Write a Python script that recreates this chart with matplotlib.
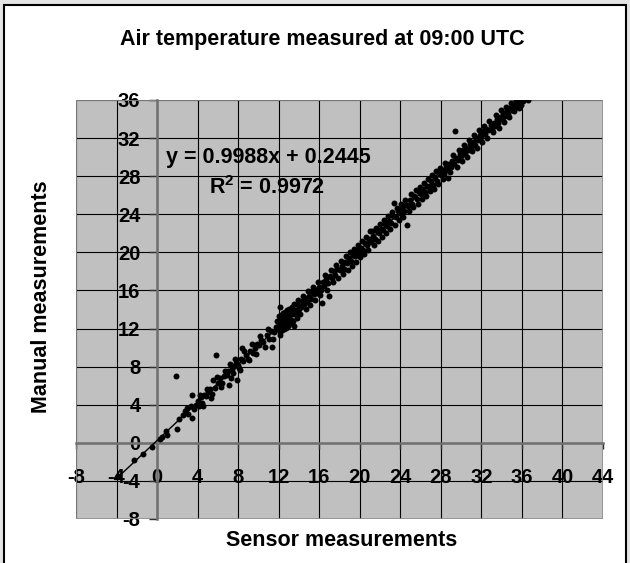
import numpy as np
import matplotlib
matplotlib.use('Agg')
import matplotlib.pyplot as plt
from matplotlib.patches import Rectangle

plt.rcParams['font.family'] = ['Liberation Sans', 'DejaVu Sans']
plt.rcParams['font.weight'] = 'bold'
plt.rcParams['axes.unicode_minus'] = False
plt.rcParams['mathtext.fontset'] = 'custom'
plt.rcParams['mathtext.rm'] = 'Liberation Sans:bold'
plt.rcParams['mathtext.bf'] = 'Liberation Sans:bold'

# sensor (x) / manual (y) temperature pairs
sensor = [
    -3.9, -2.3, -1.4, -0.5, 0.3, 0.5, 0.9, 1.0, 1.9, 2.0, 2.2, 2.6, 2.8, 3.0, 3.1, 3.3, 3.4, 3.4, 3.6, 3.8,
    4.0, 4.1, 4.3, 4.4, 4.6, 4.8, 5.0, 5.2, 5.4, 5.5, 5.7, 5.8, 6.0, 6.2, 6.4, 6.6, 6.9, 7.0, 7.1, 7.2,
    7.4, 7.5, 7.6, 7.8, 7.9, 8.0,
    8.1, 8.3, 8.4, 8.5, 8.8, 9.0, 9.2, 9.5, 9.7, 9.9, 10.1, 10.3, 10.5, 10.8, 11.0, 11.2, 11.3, 11.5, 11.7, 11.9,
    12.0, 12.1, 12.1, 12.2, 12.3, 12.4, 12.5, 12.6, 12.7, 12.8, 12.9, 13.0, 13.1, 13.2, 13.4, 13.5, 13.6, 13.7,
    13.9, 14.0, 14.2, 14.3, 14.5, 14.6, 14.8, 15.0, 15.2, 15.3, 15.5, 15.7, 15.8, 16.0, 16.2,
    16.3, 16.4, 16.5, 16.7, 16.9, 17.0, 17.1, 17.3, 17.5, 17.6, 17.8, 18.0, 18.2, 18.4, 18.5, 18.7, 18.9, 19.1,
    19.3, 19.5, 19.7, 19.9,
    20.1, 20.3, 20.5, 20.7, 20.9, 21.0, 21.1, 21.3, 21.5, 21.7, 21.9, 22.1, 22.3, 22.5, 22.7, 22.9, 23.1, 23.3,
    23.4, 23.6, 23.8,
    24.0, 24.2, 24.4, 24.6, 24.7, 24.8, 25.0, 25.2, 25.4, 25.6, 25.8, 26.0, 26.2, 26.4, 26.6, 26.8, 27.0, 27.2,
    27.4, 27.6, 27.8, 28.0,
    28.1, 28.3, 28.5, 28.6, 28.7, 28.8, 29.0, 29.1, 29.3, 29.4, 29.5, 29.7, 29.9, 30.0, 30.2, 30.4, 30.5, 30.7,
    30.9, 31.0, 31.2, 31.4, 31.5, 31.7, 31.9,
    32.0, 32.2, 32.4, 32.5, 32.7, 32.9, 33.0, 33.2, 33.3, 33.5, 33.6, 33.8, 34.0, 34.1, 34.3, 34.5, 34.6, 34.8,
    35.0, 35.1, 35.3, 35.5, 35.6, 35.8, 36.1, 36.6,
    # second pass through the dense band
    4.2, 4.5, 4.9, 5.3, 5.9, 6.3, 6.7, 7.3, 7.7, 8.2, 8.6, 9.1, 9.4, 9.8, 10.2, 10.6, 10.9, 11.4, 11.8,
    12.05, 12.15, 12.25, 12.35, 12.45, 12.55, 12.65, 12.75, 12.85, 12.95, 13.05, 13.15, 13.3, 13.45, 13.55,
    13.8, 13.95, 14.1, 14.4, 14.7, 14.9, 15.1, 15.4, 15.6, 15.9, 16.1,
    16.6, 16.8, 17.2, 17.4, 17.7, 17.9, 18.1, 18.3, 18.6, 18.8, 19.0, 19.2, 19.4, 19.6, 19.8,
    20.0, 20.2, 20.4, 20.6, 20.8, 21.2, 21.4, 21.6, 21.8, 22.0, 22.2, 22.4, 22.6, 22.8, 23.0, 23.2, 23.5,
    23.7, 23.9,
    24.1, 24.3, 24.5, 24.9, 25.1, 25.3, 25.5, 25.7, 25.9, 26.1, 26.3, 26.5, 26.7, 26.9, 27.1, 27.3, 27.5,
    27.7, 27.9,
    28.2, 28.4, 28.9, 29.2, 29.6, 29.8, 30.1, 30.3, 30.6, 30.8, 31.1, 31.3, 31.6, 31.8,
    32.1, 32.3, 32.6, 32.8, 33.1, 33.4, 33.7, 33.9, 34.2, 34.4, 34.7, 34.9, 35.2, 35.4, 35.7, 35.9,
]
manual = [
    -3.5, -1.8, -1.2, -0.4, 0.4, 0.6, 1.2, 0.8, 7.0, 1.5, 2.5, 2.9, 3.3, 3.7, 3.0, 3.9, 2.6, 5.0, 3.6, 4.0,
    4.4, 3.9, 4.8, 4.2, 5.0, 4.9, 5.3, 5.6, 5.1, 6.6, 5.8, 9.2, 6.3, 6.8, 6.3, 7.0, 7.1, 7.5, 6.1, 8.3,
    7.8, 7.3, 8.1, 8.4, 6.6, 8.2,
    7.9, 8.8, 10.0, 8.6, 9.2, 8.8, 9.6, 9.4, 10.0, 10.4, 10.3, 10.8, 10.6, 11.3, 10.9, 11.7, 10.1, 11.6, 12.2, 12.0,
    12.5, 14.3, 11.3, 12.9, 12.2, 12.7, 13.1, 12.4, 12.9, 13.4, 12.6, 13.2, 13.8, 12.9, 13.5, 12.3, 14.0, 13.6,
    14.5, 14.1, 14.3, 14.9, 14.6, 15.2, 14.8, 15.4, 15.1, 15.9, 15.6, 16.1, 15.7, 16.4, 16.0,
    14.7, 16.9, 16.5, 17.2, 16.8, 15.4, 17.5, 17.3, 18.0, 17.6, 18.3, 18.1, 18.6, 18.3, 19.0, 18.9, 19.4, 19.1,
    19.7, 19.6, 20.2, 19.9,
    20.5, 20.2, 21.0, 20.8, 21.4, 22.2, 21.1, 21.7, 21.4, 22.2, 22.0, 22.5, 22.3, 23.0, 22.8, 23.3, 23.1, 23.8,
    25.2, 23.7, 24.3,
    24.1, 24.7, 24.3, 25.0, 22.9, 24.9, 25.5, 25.1, 25.9, 25.6, 26.3, 26.1, 26.7, 26.3, 27.0, 26.9, 27.5, 27.1,
    27.9, 27.5, 28.3, 28.1,
    28.6, 28.2, 29.0, 28.7, 27.8, 29.3, 29.0, 29.6, 29.3, 32.7, 29.9, 29.7, 30.3, 30.1, 30.7, 30.3, 31.0, 30.8,
    31.4, 31.0, 31.6, 31.3, 32.0, 31.8, 32.3,
    32.1, 32.7, 32.4, 33.0, 32.8, 33.4, 32.9, 33.6, 33.3, 34.0, 33.6, 34.2, 34.0, 34.6, 34.3, 34.9, 34.5, 35.2,
    35.0, 35.5, 35.3, 35.8, 35.5, 36.0, 35.9, 36.0,
    # second pass through the dense band
    5.0, 3.9, 5.7, 4.7, 6.9, 5.9, 7.5, 6.8, 8.8, 7.6, 9.6, 8.7, 10.4, 9.3, 11.2, 10.1, 11.9, 10.9, 12.8,
    13.3, 11.6, 13.4, 11.8, 13.6, 12.0, 13.7, 12.1, 13.9, 12.3, 14.1, 12.6, 14.3, 12.8, 14.6,
    13.1, 15.0, 13.5, 15.4, 14.1, 15.9, 14.5, 16.4, 15.0, 16.9, 15.5,
    17.6, 16.1, 18.2, 16.9, 18.7, 17.3, 19.1, 17.7, 19.6, 18.2, 20.0, 18.6, 20.4, 19.0, 20.8,
    19.5, 21.2, 19.8, 21.6, 20.2, 22.2, 20.8, 22.6, 21.2, 23.0, 21.6, 23.4, 22.0, 23.8, 22.5, 24.2, 22.9,
    24.7, 23.4,
    25.1, 23.7, 25.5, 24.3, 26.1, 24.8, 26.5, 25.1, 26.9, 25.6, 27.3, 25.9, 27.7, 26.4, 28.1, 26.7, 28.5,
    27.2, 28.9,
    27.7, 29.4, 28.4, 30.2, 29.0, 30.8, 29.6, 31.3, 30.0, 31.8, 30.6, 32.3, 31.0, 32.8,
    31.6, 33.3, 32.0, 33.8, 32.6, 34.4, 33.1, 34.9, 33.7, 35.3, 34.2, 35.7, 34.8, 36.0, 35.2, 35.5,
]

slope = 0.9988
intercept = 0.2445
r2 = 0.9972

x_ticks = list(range(-8, 45, 4))
y_ticks = list(range(-8, 37, 4))

fig = plt.figure(figsize=(6.3, 5.63), dpi=100, facecolor='#e4e4e4')
fig.patches.append(Rectangle((4 / 630, -0.01), 622 / 630, 1.01 - 5 / 563,
                             transform=fig.transFigure, facecolor='white',
                             edgecolor='black', linewidth=1.5, zorder=-5))

ax = fig.add_axes([76 / 630, 1 - 519 / 563, 527 / 630, 419 / 563])
ax.set_facecolor('#c0c0c0')
ax.set_xlim(-8, 44)
ax.set_ylim(-8, 36)
ax.set_xticks(x_ticks)
ax.set_yticks(y_ticks)
ax.grid(True, color='black', linewidth=0.8)
ax.set_axisbelow(True)

for s in ['top', 'right']:
    ax.spines[s].set_visible(False)
ax.spines['left'].set_position(('data', 0))
ax.spines['bottom'].set_position(('data', 0))
for s in ['left', 'bottom']:
    ax.spines[s].set_color('#707070')
    ax.spines[s].set_linewidth(1.8)
ax.add_patch(Rectangle((0, 0), 1, 1, transform=ax.transAxes, fill=False,
                       edgecolor='#909090', linewidth=1.2, zorder=1))

ax.tick_params(axis='x', direction='out', length=4, width=1, color='#303030', pad=14, labelsize=14.5)
ax.tick_params(axis='y', direction='out', length=6, width=1, color='#303030', pad=6, labelsize=14.5)

xs = np.array([min(sensor), max(sensor)])
ax.plot(xs, slope * xs + intercept, color='black', linewidth=1, zorder=3)
ax.plot(sensor, manual, 'o', color='black', markersize=4.3, markeredgewidth=0, zorder=4)

fs = 15.5
fig.text(322 / 630, 1 - 40 / 563, 'Air temperature measured at 09:00 UTC',
         ha='center', va='center', fontsize=fs)
fig.text(268 / 630, 1 - 158 / 563, f'y = {slope}x + {intercept}',
         ha='center', va='center', fontsize=fs)
fig.text(267 / 630, 1 - 188 / 563, f'R$^2$ = {r2}',
         ha='center', va='center', fontsize=fs)
fig.text(342 / 630, 1 - 541 / 563, 'Sensor measurements',
         ha='center', va='center', fontsize=fs)
fig.text(42 / 630, 1 - 297 / 563, 'Manual measurements', rotation=90,
         ha='center', va='center', fontsize=fs)

fig.savefig('out.png', dpi=100, facecolor=fig.get_facecolor())
